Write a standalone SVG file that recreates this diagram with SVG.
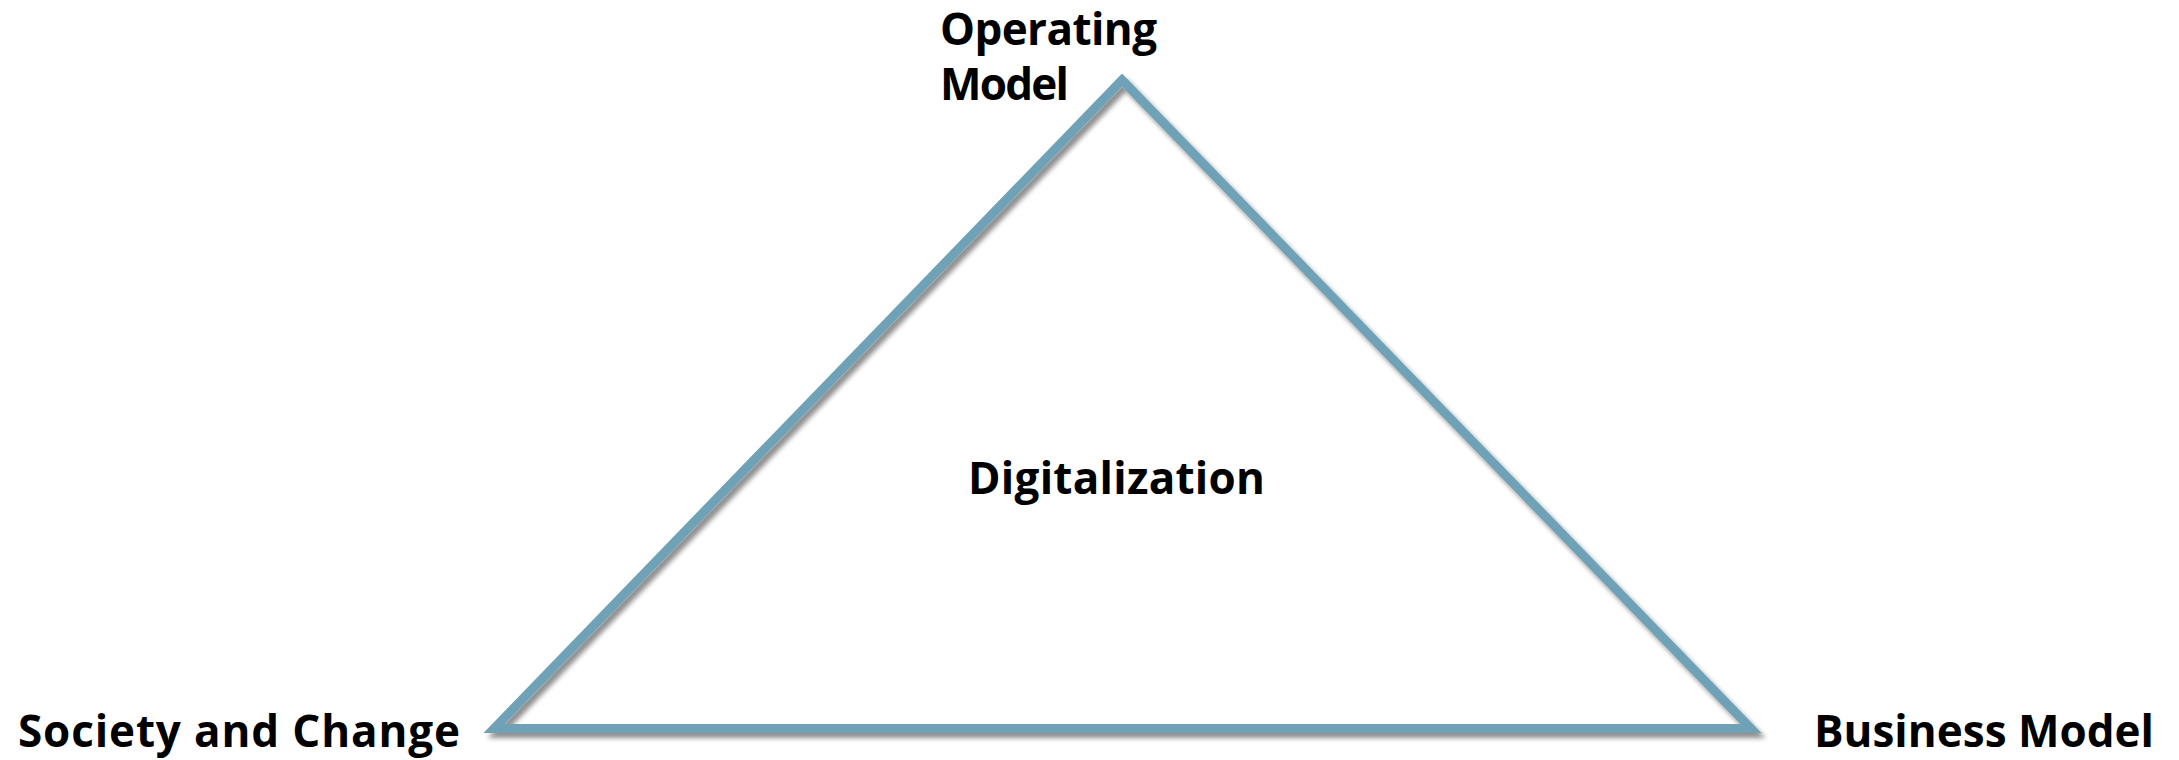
<svg xmlns="http://www.w3.org/2000/svg" width="2179" height="760" viewBox="0 0 2179 760">
<defs>
<style>
.lbl{font-family:"Open Sans","Liberation Sans",sans-serif;font-weight:700;font-size:44px;fill:#000;}
.tri{fill:none;stroke:#6fa2b7;stroke-width:9;stroke-linejoin:miter;stroke-miterlimit:10;}
</style>
<filter id="sh" x="-5%" y="-5%" width="110%" height="110%">
<feGaussianBlur in="SourceAlpha" stdDeviation="2.5"/>
<feOffset dx="4" dy="5" result="b"/>
<feComponentTransfer><feFuncA type="linear" slope="0.45"/></feComponentTransfer>
<feMerge><feMergeNode/><feMergeNode in="SourceGraphic"/></feMerge>
</filter>
</defs>
<rect width="2179" height="760" fill="#fff"/>
<g id="connectors">
<path class="tri" filter="url(#sh)" d="M1122 80 L1751 728.5 L494 728.5 Z"/>
</g>
<g id="node-operating-model">
<text class="lbl" x="940" y="45" textLength="217" lengthAdjust="spacing">Operating</text>
<text class="lbl" x="940" y="100" textLength="129" lengthAdjust="spacing">Model</text>
</g>
<g id="node-digitalization">
<text class="lbl" x="968" y="494" textLength="297" lengthAdjust="spacing">Digitalization</text>
</g>
<g id="node-society">
<text class="lbl" x="18" y="747" textLength="442" lengthAdjust="spacing">Society and Change</text>
</g>
<g id="node-business-model">
<text class="lbl" x="1814" y="747" textLength="340" lengthAdjust="spacing">Business Model</text>
</g>
</svg>
